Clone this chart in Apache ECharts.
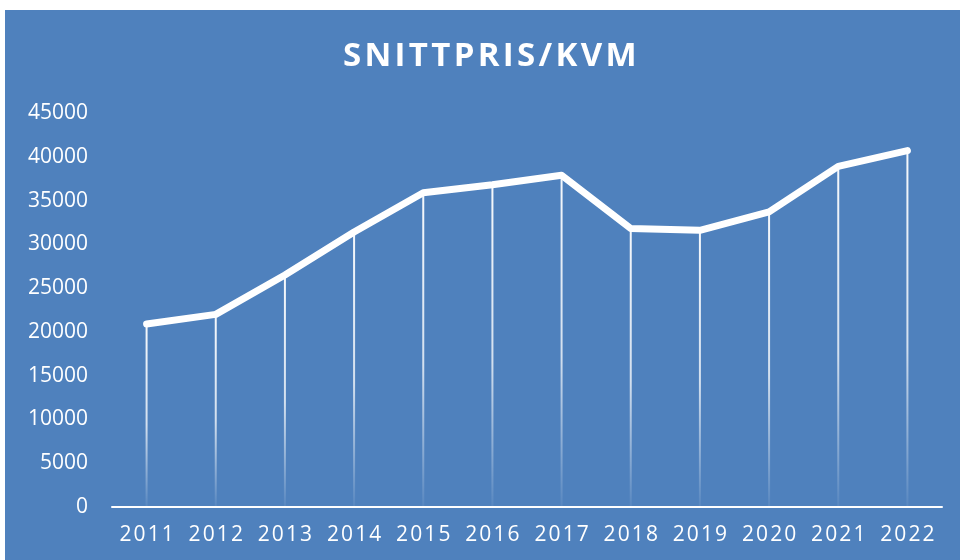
<!DOCTYPE html>
<html>
<head>
<meta charset="utf-8">
<style>
  html, body { margin: 0; padding: 0; background: #ffffff; }
  #chart-container { width: 960px; height: 560px; }
</style>
</head>
<body>
<div id="chart-container"></div>
<script src="https://fastly.jsdelivr.net/npm/echarts@6/dist/echarts.min.js"></script>
<script type="text/javascript">
// data
var years = ['2011', '2012', '2013', '2014', '2015', '2016', '2017', '2018', '2019', '2020', '2021', '2022'];
var prices = [20900, 22000, 26500, 31400, 35900, 36800, 37900, 31800, 31600, 33700, 38900, 40700];
var yTicks = [0, 5000, 10000, 15000, 20000, 25000, 30000, 35000, 40000, 45000];

var dom = document.getElementById('chart-container');
var myChart = echarts.init(dom, null, { renderer: 'canvas' });

// spread letters a bit, like the spaced-out text in the original
function spaced(s, sep) {
    return s.split('').join(sep);
}

var option = {
    backgroundColor: '#ffffff',
    animation: false,
    graphic: [
        {
            type: 'rect',
            z: -10,
            shape: { x: 5, y: 10, width: 955, height: 550 },
            style: { fill: '#4f81bd' }
        }
    ],
    title: {
        text: spaced('SNITTPRIS/KVM', '\u200A'),
        left: 338,
        top: 35,
        textStyle: {
            color: '#ffffff',
            fontFamily: 'Open Sans',
            fontWeight: 'bold',
            fontSize: 33
        }
    },
    grid: {
        left: 112,
        right: 18,
        top: 113,
        bottom: 53,
        containLabel: false
    },
    xAxis: {
        type: 'category',
        data: years,
        boundaryGap: true,
        axisLine: { show: true, lineStyle: { color: '#ffffff', width: 2 } },
        axisTick: { show: false },
        axisLabel: {
            color: '#ffffff',
            fontFamily: 'Open Sans',
            fontSize: 21,
            margin: 18,
            interval: 0,
            hideOverlap: false,
            formatter: function (v) { return spaced(v, '\u200A'); }
        }
    },
    yAxis: {
        type: 'value',
        min: yTicks[0],
        max: yTicks[yTicks.length - 1],
        interval: 5000,
        axisLine: { show: false },
        axisTick: { show: false },
        splitLine: { show: false },
        axisLabel: {
            color: '#ffffff',
            fontFamily: 'Open Sans',
            fontSize: 21,
            margin: 24,
            formatter: function (v) { return String(v); }
        }
    },
    series: [
        {
            // drop lines under each point
            type: 'bar',
            data: prices,
            barWidth: 2,
            z: 1,
            itemStyle: {
                color: new echarts.graphic.LinearGradient(0, 0, 0, 1, [
                    { offset: 0, color: 'rgba(255,255,255,0.95)' },
                    { offset: 0.55, color: 'rgba(255,255,255,0.75)' },
                    { offset: 1, color: 'rgba(255,255,255,0.05)' }
                ])
            }
        },
        {
            type: 'line',
            data: prices,
            z: 3,
            showSymbol: false,
            symbol: 'none',
            lineStyle: { color: '#ffffff', width: 7, cap: 'round', join: 'round' }
        }
    ]
};

myChart.setOption(option);
window.addEventListener('resize', myChart.resize);
</script>
</body>
</html>
